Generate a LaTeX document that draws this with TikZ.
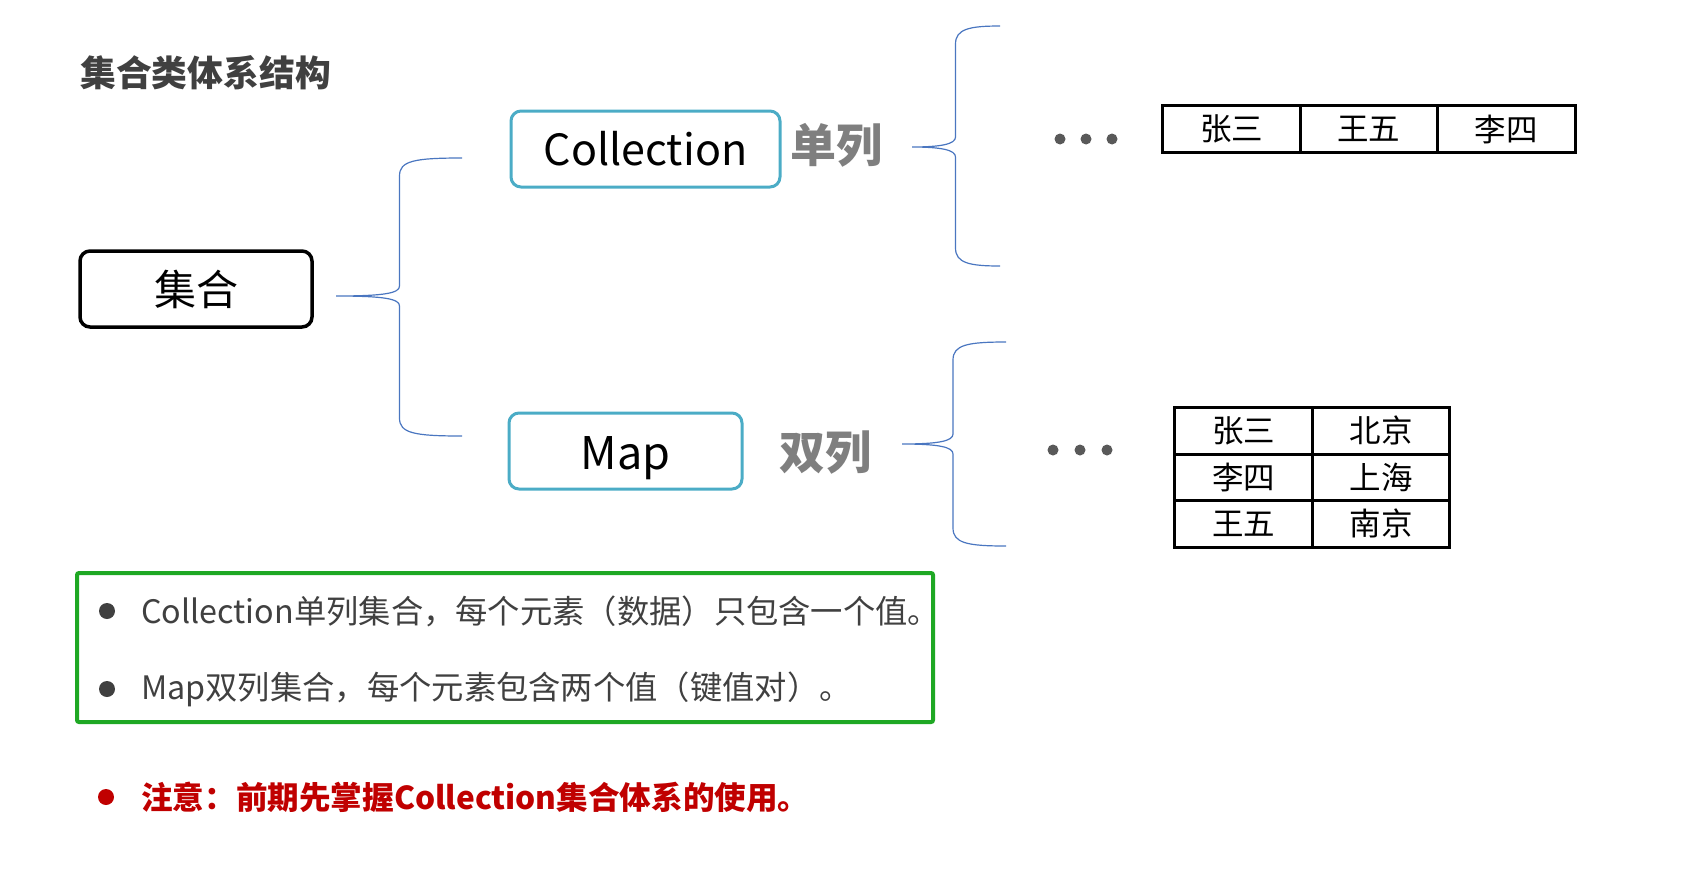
\documentclass[tikz,border=0pt]{standalone}
\usepackage{fontspec}
\setmainfont{Noto Sans CJK SC}
\usetikzlibrary{positioning}

\definecolor{boxblue}{HTML}{4BACC6}
\definecolor{braceblue}{HTML}{4A76C0}
\definecolor{textgray}{HTML}{404040}
\definecolor{labelgray}{HTML}{7F7F7F}
\definecolor{dotgray}{HTML}{595959}
\definecolor{framegreen}{HTML}{1FA824}
\definecolor{notered}{HTML}{C00000}

% curly bracket: tip x, tip y, spine x, top y, bottom y, end x
\newcommand{\curly}[6]{%
  \draw[bracket] (#6,#4) .. controls ({#3+14},#4) and (#3,{#4+3}) .. (#3,{#4+18})
    -- (#3,{#2-10}) .. controls (#3,{#2-3}) and ({#3-14},#2) .. (#1,#2)
    .. controls ({#3-14},#2) and (#3,{#2+3}) .. (#3,{#2+10})
    -- (#3,{#5-18}) .. controls (#3,{#5-3}) and ({#3+14},#5) .. (#6,#5);}

\begin{document}
\begin{tikzpicture}[x=1pt, y=-1pt,
  setbox/.style={draw=black, line width=3.5pt, rounded corners=10pt,
    minimum width=232pt, minimum height=76pt, font=\fontsize{42}{48}\selectfont},
  kindbox/.style={draw=boxblue, line width=3pt, rounded corners=10pt,
    minimum height=76pt, font=\fontsize{45}{52}\selectfont},
  kindlabel/.style={inner sep=0pt, text=labelgray, font=\fontsize{46}{52}\selectfont\bfseries},
  bracket/.style={draw=braceblue, line width=1.2pt},
  cell/.style={draw=black, line width=3pt, outer sep=0pt, inner sep=0pt,
    minimum width=137.5pt, minimum height=46.5pt, font=\fontsize{31.5}{36}\selectfont},
  item/.style={anchor=west, inner sep=0pt, text=textgray, font=\fontsize{32.3}{38}\selectfont},
]
  \useasboundingbox (0,0) rectangle (1693,887);
  \node[anchor=west, inner sep=0pt, text=textgray, font=\fontsize{35.8}{42}\selectfont\bfseries]
    (title) at (80,73) {集合类体系结构};

  \node[setbox] (set) at (196,289) {集合};
  \node[kindbox, minimum width=269pt, font=\fontsize{43}{50}\selectfont] (coll) at (645.5,149) {Collection};
  \node[kindbox, minimum width=233pt, text height=36pt, text depth=0pt] (map) at (625.5,451) {Map};
  \node[kindlabel, right=9pt of coll, yshift=4pt] (single) {单列};
  \node[kindlabel, right=36pt of map, yshift=-2pt] (double) {双列};

  \curly{336}{296}{399.5}{158}{436}{462}
  \curly{912}{147}{955.5}{26}{266}{1000}
  \curly{902}{444}{953}{342}{546}{1006}

  \foreach \x in {1060,1086,1112} \fill[dotgray] (\x,139) circle (5.5);
  \foreach \x in {1053,1080,1107} \fill[dotgray] (\x,450) circle (5.5);

  % single column list
  \foreach \name [count=\i] in {张三,王五,李四}
    \node[cell] (row\i) at ({1163+137.3*(\i-0.5)},129) {\name};

  % key / value pairs
  \foreach \key/\val [count=\i] in {张三/北京,李四/上海,王五/南京} {
    \node[cell] (key\i) at (1243.5,{407.5+46.5*(\i-0.5)}) {\key};
    \node[cell, right=0pt of key\i] (val\i) {\val};
  }

  \node[draw=framegreen, line width=4pt, rounded corners=2pt,
    minimum width=856pt, minimum height=149pt] (frame) at (505,647.5) {};
  \fill[textgray] (107,611) circle (8);
  \fill[textgray] (107,689) circle (8);
  \node[item] (first) at (141,611) {Collection单列集合，每个元素（数据）只包含一个值。};
  \node[item] (second) at (141,689) {Map双列集合，每个元素包含两个值（键值对）。};

  \fill[notered] (106,797) circle (8);
  \node[item, text=notered, font=\fontsize{31.6}{38}\selectfont\bfseries]
    (note) at (141,797) {注意：前期先掌握Collection集合体系的使用。};
\end{tikzpicture}
\end{document}
